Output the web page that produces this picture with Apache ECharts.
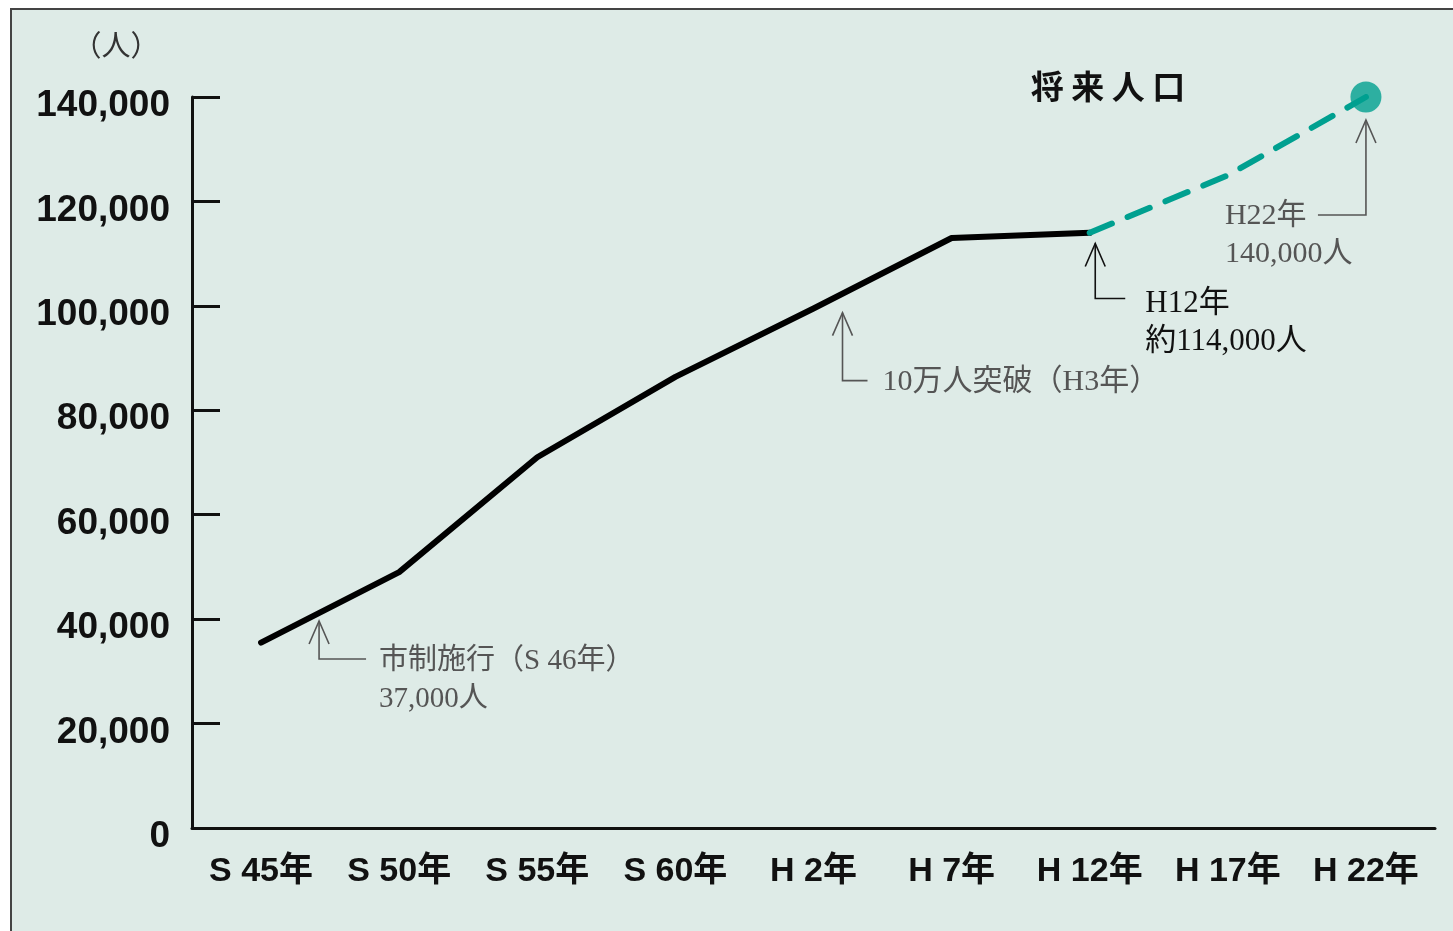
<!DOCTYPE html>
<html>
<head>
<meta charset="utf-8">
<script src="https://cdn.jsdelivr.net/npm/echarts@6/dist/echarts.min.js"></script>
<style>
html, body { margin: 0; padding: 0; background: #fff; }
#frame { position: absolute; left: 10px; top: 8px; width: 1443px; height: 923px; background: #deebe7;
  border-top: 2px solid #444; border-left: 2px solid #444; box-sizing: border-box; }
#main { position: absolute; left: 0; top: 0; width: 1453px; height: 931px; }
</style>
</head>
<body>
<div id="frame"></div>
<div id="main"></div>
<script>
// years along the bottom
var categories = ['S 45年', 'S 50年', 'S 55年', 'S 60年', 'H 2年', 'H 7年', 'H 12年', 'H 17年', 'H 22年'];
// population so far (solid black)
var actualPop = [35500, 49000, 71000, 86400, 99500, 113000, 114000, null, null];
// projected population (dashed teal)
var futurePop = [null, null, null, null, null, null, 114000, 125000, 140000];
// target dot
var targetPop = [null, null, null, null, null, null, null, null, 140000];
var yMin = 0, yMax = 140000, yStep = 20000;

// callouts: idx = category the arrow starts from, frac = part of the way to the next one
var notes = [
  { idx: 0, frac: 0.42, dy: 8, drop: 38, arm: 47, textDx: 60, textDy: 2, color: '#555', size: 29,
    lines: ['市制施行（S 46年）', '37,000人'] },
  { idx: 4, frac: 0.21, dy: 19, drop: 68, arm: 25, textDx: 40, textDy: 1, color: '#555', size: 30,
    lines: ['10万人突破（H3年）'] },
  { idx: 6, frac: 0.04, dy: 13, drop: 55, arm: 30, textDx: 50, textDy: 5, color: '#111', size: 31,
    lines: ['H12年', '約114,000人'] },
  { idx: 8, frac: 0, dy: 23, drop: 95, arm: -48, textDx: -141, textDy: 1, color: '#555', size: 30,
    lines: ['H22年', '140,000人'] }
];

var teal = '#00a090';
var sans = "'Liberation Sans', 'Noto Sans CJK JP', sans-serif";
var serif = "'Liberation Serif', 'DejaVu Serif', 'Noto Sans CJK JP', serif";

function withCommas(v) {
  return String(v).replace(/\B(?=(\d{3})+(?!\d))/g, ',');
}

var myChart = echarts.init(document.getElementById('main'));
var option = {
  animation: false,
  grid: { left: 192, right: 18, top: 97, bottom: 103 },
  xAxis: {
    type: 'category',
    data: categories,
    boundaryGap: true,
    axisLine: { lineStyle: { color: '#111', width: 3 } },
    axisTick: { alignWithLabel: true, inside: true, length: 20, lineStyle: { color: '#111', width: 3 } },
    axisLabel: { margin: 27, fontSize: 34, fontFamily: sans, color: '#111', fontWeight: 'bold' }
  },
  yAxis: {
    type: 'value',
    min: yMin,
    max: yMax,
    interval: yStep,
    splitLine: { show: false },
    axisLine: { show: true, lineStyle: { color: '#111', width: 3 } },
    axisTick: { show: true, inside: true, length: 28, lineStyle: { color: '#111', width: 3 } },
    axisLabel: { margin: 22, fontSize: 37, fontWeight: 'bold', fontFamily: sans, color: '#111',
      verticalAlign: 'top', lineHeight: 18,
      formatter: function(v) { return withCommas(v); } }
  },
  series: [
    {
      type: 'line',
      data: actualPop,
      symbol: 'none',
      lineStyle: { color: '#000', width: 6, cap: 'round', join: 'round' }
    },
    {
      type: 'line',
      data: futurePop,
      symbol: 'none',
      lineStyle: { color: teal, width: 6, type: [24, 17], cap: 'round' }
    },
    {
      type: 'scatter',
      data: targetPop,
      symbol: 'circle',
      symbolSize: 31,
      itemStyle: { color: teal }
    }
  ]
};
myChart.setOption(option);

// callout arrows, placed from the data positions
var graphics = [
  { type: 'text', style: { text: '（人）', x: 116, y: 48, align: 'center', verticalAlign: 'middle',
    font: "29px " + sans, fill: '#333' } },
  { type: 'text', style: { text: '将 来 人 口', x: 1108, y: 86, align: 'center', verticalAlign: 'middle',
    font: "bold 33px 'Noto Sans CJK JP', sans-serif", fill: '#111' } }
];
var lineVals = actualPop.map(function(v, i) { return v != null ? v : futurePop[i]; });
for (var i = 0; i < notes.length; i++) {
  var n = notes[i];
  var p0 = myChart.convertToPixel({ gridIndex: 0 }, [n.idx, lineVals[n.idx]]);
  var j = Math.min(n.idx + 1, categories.length - 1);
  var p1 = myChart.convertToPixel({ gridIndex: 0 }, [j, lineVals[j]]);
  var tx = p0[0] + n.frac * (p1[0] - p0[0]);
  var ty = p0[1] + n.frac * (p1[1] - p0[1]) + n.dy;
  var cy = ty + n.drop;
  graphics.push({ type: 'polyline', shape: { points: [[tx, ty], [tx, cy], [tx + n.arm, cy]] },
    style: { stroke: n.color, lineWidth: 1.6, fill: null } });
  graphics.push({ type: 'polyline', shape: { points: [[tx - 10, ty + 23], [tx, ty], [tx + 10, ty + 23]] },
    style: { stroke: n.color, lineWidth: 1.6, fill: null } });
  for (var k = 0; k < n.lines.length; k++) {
    graphics.push({ type: 'text', style: { text: n.lines[k], x: tx + n.textDx, y: cy + n.textDy + k * 38,
      align: 'left', verticalAlign: 'middle', font: n.size + 'px ' + serif, fill: n.color } });
  }
}
myChart.setOption({ graphic: graphics });
</script>
</body>
</html>
